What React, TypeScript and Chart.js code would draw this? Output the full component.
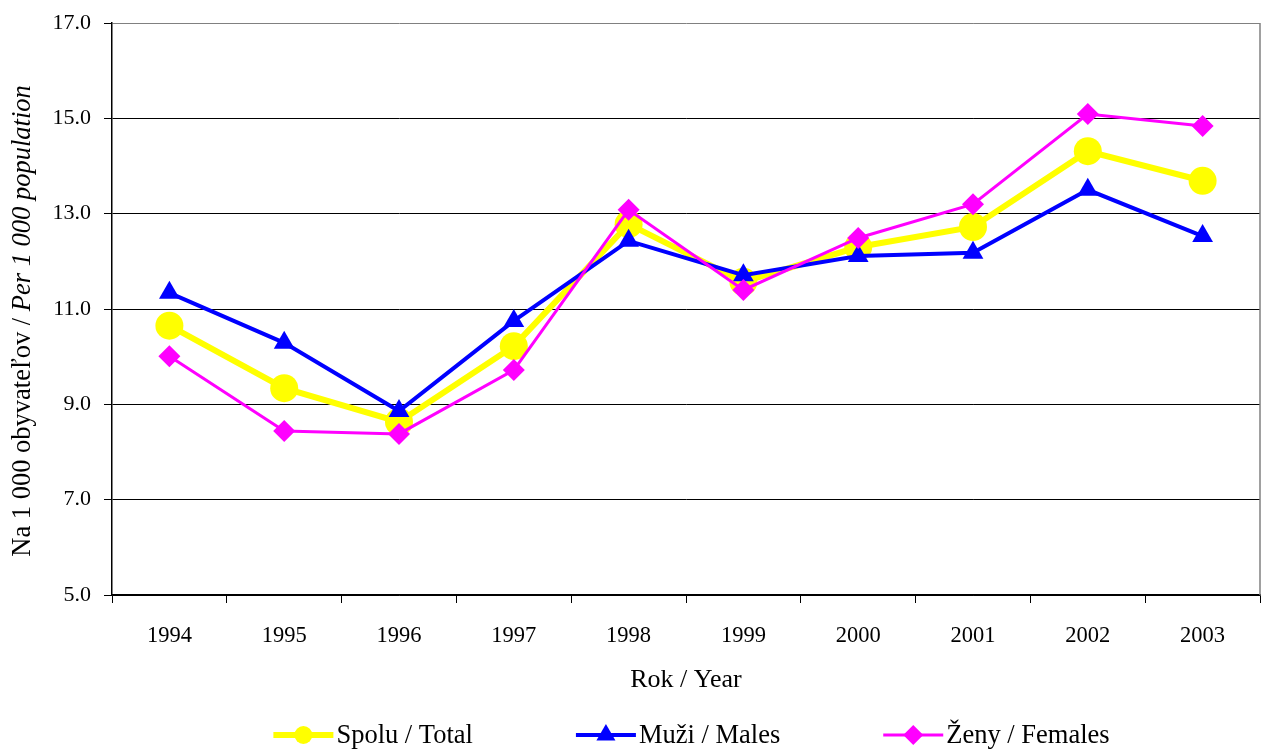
import React, { useEffect, useRef } from 'react';
import { Chart, registerables } from 'chart.js';

Chart.register(...registerables);

const years = ['1994', '1995', '1996', '1997', '1998', '1999', '2000', '2001', '2002', '2003'];
const totalValues = [10.65, 9.34, 8.63, 10.22, 12.78, 11.57, 12.3, 12.72, 14.31, 13.69];
const maleValues = [11.34, 10.29, 8.86, 10.75, 12.43, 11.71, 12.11, 12.18, 13.5, 12.53];
const femaleValues = [10.01, 8.44, 8.38, 9.72, 13.08, 11.4, 12.49, 13.2, 15.09, 14.84];
const seriesLabels = ['Spolu / Total', 'Muži / Males', 'Ženy / Females'];
const yAxisTitleNormal = 'Na 1 000 obyvateľov / ';
const yAxisTitleItalic = 'Per 1 000 population';
const xAxisTitle = 'Rok / Year';

const FONT = '"Liberation Serif", "Times New Roman", serif';

function drawMarker(ctx: CanvasRenderingContext2D, style: string, x: number, y: number, r: number, color: string) {
  ctx.save();
  ctx.fillStyle = color;
  ctx.beginPath();
  if (style === 'circle') {
    ctx.arc(x, y, r, 0, Math.PI * 2);
  } else if (style === 'triangle') {
    ctx.moveTo(x, y - r);
    ctx.lineTo(x + r * 0.866, y + r * 0.5);
    ctx.lineTo(x - r * 0.866, y + r * 0.5);
    ctx.closePath();
  } else {
    ctx.moveTo(x, y - r);
    ctx.lineTo(x + r, y);
    ctx.lineTo(x, y + r);
    ctx.lineTo(x - r, y);
    ctx.closePath();
  }
  ctx.fill();
  ctx.restore();
}

const customPlugin = {
  id: 'custom',
  beforeDatasetsDraw(chart: any) {
    const { ctx, chartArea } = chart;
    ctx.save();
    ctx.strokeStyle = '#808080';
    ctx.lineWidth = 1.5;
    ctx.beginPath();
    ctx.moveTo(chartArea.right, chartArea.top);
    ctx.lineTo(chartArea.right, chartArea.bottom);
    ctx.stroke();
    ctx.restore();
  },
  afterDraw(chart: any) {
    const { ctx } = chart;
    // Y-axis title with mixed styles
    ctx.save();
    const fs = 26.5;
    ctx.font = `${fs}px ${FONT}`;
    const w1 = ctx.measureText(yAxisTitleNormal).width;
    ctx.font = `italic ${fs}px ${FONT}`;
    const w2 = ctx.measureText(yAxisTitleItalic).width;
    const total = w1 + w2;
    const cy = 321;
    ctx.translate(23, cy);
    ctx.rotate(-Math.PI / 2);
    ctx.fillStyle = '#000';
    ctx.textBaseline = 'middle';
    ctx.textAlign = 'left';
    ctx.font = `${fs}px ${FONT}`;
    ctx.fillText(yAxisTitleNormal, -total / 2, 0);
    ctx.font = `italic ${fs}px ${FONT}`;
    ctx.fillText(yAxisTitleItalic, -total / 2 + w1, 0);
    ctx.restore();

    // Legend
    ctx.save();
    const lfs = 26.5;
    ctx.font = `${lfs}px ${FONT}`;
    const lineLen = 60;
    const textGap = 3;
    const itemGap = 103;
    const items = chart.data.datasets.map((ds: any) => ({
      ds,
      w: lineLen + textGap + ctx.measureText(ds.label).width,
    }));
    const totalW = items.reduce((s: number, it: any) => s + it.w, 0) + itemGap * (items.length - 1);
    let x = 691.5 - totalW / 2;
    const ly = 735;
    items.forEach((it: any) => {
      const ds = it.ds;
      ctx.strokeStyle = ds.borderColor;
      ctx.lineWidth = ds.borderWidth;
      ctx.beginPath();
      ctx.moveTo(x, ly);
      ctx.lineTo(x + lineLen, ly);
      ctx.stroke();
      drawMarker(ctx, ds.pointStyle, x + lineLen / 2, ly, ds.legendMarker, ds.borderColor);
      ctx.fillStyle = '#000';
      ctx.textBaseline = 'middle';
      ctx.textAlign = 'left';
      ctx.fillText(ds.label, x + lineLen + textGap, ly + 1);
      x += it.w + itemGap;
    });
    ctx.restore();
  },
};

export default function App() {
  const canvasRef = useRef<HTMLCanvasElement | null>(null);

  useEffect(() => {
    document.body.style.margin = '0';
    const canvas = canvasRef.current;
    if (!canvas) return;
    const chart = new Chart(canvas, {
      type: 'line',
      data: {
        labels: years,
        datasets: [
          {
            label: seriesLabels[0],
            data: totalValues,
            borderColor: '#FFFF00',
            backgroundColor: '#FFFF00',
            borderWidth: 6,
            pointStyle: 'circle',
            pointRadius: 14,
            pointHoverRadius: 14,
            pointBorderWidth: 0,
            tension: 0,
            order: 3,
            legendMarker: 9,
          } as any,
          {
            label: seriesLabels[1],
            data: maleValues,
            borderColor: '#0000FF',
            backgroundColor: '#0000FF',
            borderWidth: 4,
            pointStyle: 'triangle',
            pointRadius: 12,
            pointHoverRadius: 12,
            pointBorderWidth: 0,
            tension: 0,
            order: 2,
            legendMarker: 11,
          } as any,
          {
            label: seriesLabels[2],
            data: femaleValues,
            borderColor: '#FF00FF',
            backgroundColor: '#FF00FF',
            borderWidth: 3,
            pointStyle: 'rectRot',
            pointRadius: 11,
            pointHoverRadius: 11,
            pointBorderWidth: 0,
            tension: 0,
            order: 1,
            legendMarker: 10,
          } as any,
        ],
      },
      options: {
        responsive: false,
        animation: false,
        events: [],
        layout: { autoPadding: false, padding: { top: 23, right: 2, bottom: 49, left: 0 } },
        plugins: {
          legend: { display: false },
          tooltip: { enabled: false },
          title: { display: false },
        },
        scales: {
          x: {
            type: 'category',
            offset: true,
            grid: {
              display: true,
              drawOnChartArea: false,
              drawTicks: true,
              tickLength: 8,
              color: '#000',
              offset: true,
            },
            border: { display: true, color: '#000', width: 1.5 },
            ticks: {
              color: '#000',
              font: { family: FONT, size: 22.5 },
              padding: 20,
              maxRotation: 0,
              autoSkip: false,
            },
            title: {
              display: true,
              text: xAxisTitle,
              color: '#000',
              font: { family: FONT, size: 26 },
              padding: { top: 4, bottom: 4 },
            },
            afterFit(scale: any) {
              scale.height = 105;
              scale.paddingLeft = 0;
              scale.paddingRight = 0;
            },
          },
          y: {
            min: 5,
            max: 17,
            ticks: {
              stepSize: 2,
              color: '#000',
              font: { family: FONT, size: 22 },
              padding: 13,
              callback: (v: any) => Number(v).toFixed(1),
            },
            grid: {
              color: (c: any) => (c.tick && c.tick.value === 17 ? '#808080' : '#000'),
              lineWidth: 1,
              drawTicks: true,
              tickLength: 8,
              tickColor: '#000',
            },
            border: { display: true, color: '#000', width: 1.5 },
            afterFit(scale: any) {
              scale.width = 112;
              scale.paddingTop = 0;
              scale.paddingBottom = 0;
            },
          },
        },
      },
      plugins: [customPlugin],
    });
    return () => chart.destroy();
  }, []);

  return (
    <div style={{ position: 'fixed', left: 0, top: 0, width: 1262, height: 749, background: '#fff' }}>
      <canvas ref={canvasRef} width={1262} height={749} style={{ display: 'block' }} />
    </div>
  );
}
